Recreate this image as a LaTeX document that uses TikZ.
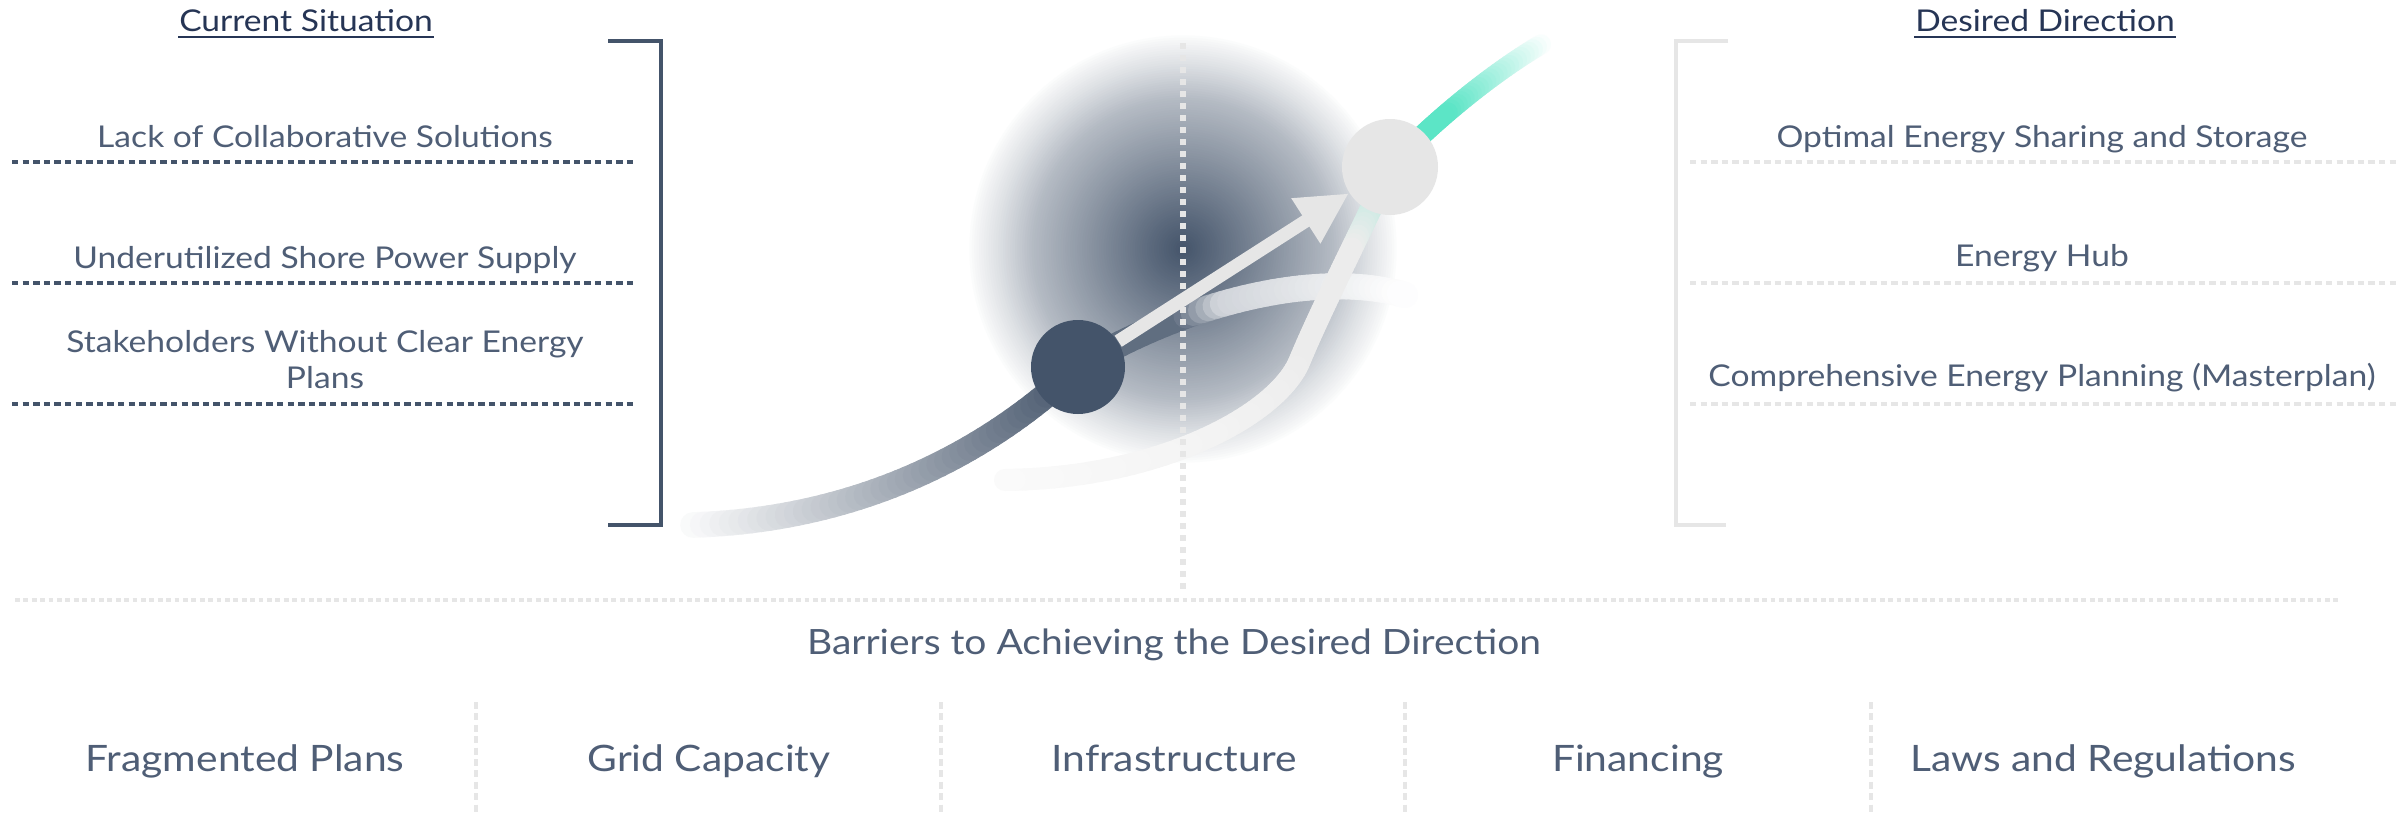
\documentclass[tikz,border=0pt]{standalone}
\usepackage{fontspec}
\setmainfont{Lato}[FakeStretch=1.12]
\usetikzlibrary{arrows.meta,calc}
\definecolor{navy}{HTML}{44546A}
\definecolor{hdr}{HTML}{263555}
\definecolor{txt}{HTML}{4F5E76}
\definecolor{lgray}{HTML}{E6E6E6}
\definecolor{mint}{HTML}{5CE5C6}
\definecolor{sgray}{HTML}{ECECEC}
\definecolor{endgray}{HTML}{FAFAFA}
\pgfdeclarelayer{back}
\pgfdeclarelayer{mid}
\pgfsetlayers{back,mid,main}
\newcommand\gcurve[6]{%
  \foreach \ii in {0,...,47}{%
    \pgfmathsetmacro\gt{\ii/48}%
    \pgfmathsetmacro\gtb{(\ii+1)/48}%
    \path #1 .. controls #2 and #3 .. #4 coordinate[pos=\gt] (gA) coordinate[pos=\gtb] (gB);%
    #6%
    \draw[line width=#5, line cap=round, gcol] (gA) -- (gB);%
  }}
\begin{document}
\begin{tikzpicture}[x=0.25pt, y=-0.25pt,
  item/.style={anchor=base, text=txt, font=\fontsize{7.5pt}{9pt}\selectfont, inner sep=0pt, align=center},
  head/.style={anchor=base, text=hdr, font=\fontsize{7.5pt}{9pt}\selectfont, inner sep=0pt},
  bot/.style={anchor=base, text=txt, font=\fontsize{9.1pt}{11pt}\selectfont, inner sep=0pt},
  ldot/.style={navy, line width=1.15pt, dash pattern=on 1.6pt off 1.05pt},
  rdot/.style={lgray, line width=1.15pt, dash pattern=on 1.6pt off 1.05pt},
  vdot/.style={lgray, line width=1.4pt, dash pattern=on 1.4pt off 1.6pt},
  hdot/.style={lgray, line width=1.2pt, dash pattern=on 1.2pt off 0.9pt},
  sdot/.style={lgray, line width=1.1pt, dash pattern=on 1.75pt off 1.1pt},
  brk/.style={line width=1.1pt, line join=miter},
  dot/.style={circle, inner sep=0pt, draw=none}]
\useasboundingbox (0,0) rectangle (2402,814);
\begin{pgfonlayer}{back}
\fill[white] (0,0) rectangle (2402,814);
\end{pgfonlayer}

% headers
\node[head] (hcs) at (306,32) {Current Situation};
\draw[hdr, line width=0.5pt] ($(hcs.base west)+(0,5)$) -- ($(hcs.base east)+(0,5)$);
\node[head] (hdd) at (2045,32) {Desired Direction};
\draw[hdr, line width=0.5pt] ($(hdd.base west)+(0,5)$) -- ($(hdd.base east)+(0,5)$);

% left column
\node[item] (l1) at (325,147) {Lack of Collaborative Solutions};
\node[item] (l2) at (325,268) {Underutilized Shore Power Supply};
\node[item] (l3) at (325,388) {Stakeholders Without Clear Energy\\Plans};
\draw[ldot] (12,162) -- (637,162);
\draw[ldot] (12,283) -- (637,283);
\draw[ldot] (12,404) -- (637,404);
\draw[navy, brk] (608,41) -- (661,41) -- (661,525) -- (608,525);

% right column
\node[item] (r1) at (2042,147) {Optimal Energy Sharing and Storage};
\node[item] (r2) at (2042,267) {Energy Hub};
\node[item] (r3) at (2042,386) {Comprehensive Energy Planning (Masterplan)};
\draw[rdot] (1690,162) -- (2396,162);
\draw[rdot] (1690,283) -- (2396,283);
\draw[rdot] (1690,404) -- (2396,404);
\draw[lgray, brk] (1728,41) -- (1676,41) -- (1676,525) -- (1726,525);

% bottom
\draw[hdot] (15,600) -- (2338,600);
\node[bot, font=\fontsize{8.7pt}{11pt}\selectfont] (bar) at (1174,654) {Barriers to Achieving the Desired Direction};
\node[bot] (b1) at (245,771) {Fragmented Plans};
\node[bot] (b2) at (709,771) {Grid Capacity};
\node[bot] (b3) at (1174,771) {Infrastructure};
\node[bot] (b4) at (1638,771) {Financing};
\node[bot] (b5) at (2103,771) {Laws and Regulations};
\foreach \sx in {476,941,1405,1871}{\draw[sdot] (\sx,702) -- (\sx,814);}

% centre graphic
\node[dot, fill=navy, minimum size=23.5pt] (cur) at (1078,367) {};
\node[dot, fill=lgray, minimum size=24pt] (des) at (1390,167) {};

\begin{pgfonlayer}{back}
\foreach \k in {0,...,89}{%
  \pgfmathsetmacro\bs{1-\k/90}%
  \pgfmathsetmacro\bp{\bs>0.97 ? 5*(1-\bs)/0.03 : (\bs>0.86 ? 5+13*(0.97-\bs)/0.11 : (\bs>0.7 ? 18+22*(0.86-\bs)/0.16 : (\bs>0.47 ? 40+20*(0.7-\bs)/0.23 : (\bs>0.15 ? 60+28*(0.47-\bs)/0.32 : 88+12*(0.15-\bs)/0.15))))}%
  \pgfmathsetmacro\br{54*\bs}%
  \fill[navy!\bp!white] (1183,249) circle[radius=\br pt];
}
\end{pgfonlayer}
\begin{pgfonlayer}{mid}
\gcurve{(693,525)}{(850,520)}{(980,460)}{(cur.center)}{6.4pt}{\pgfmathsetmacro\gp{3+97*\gt}\colorlet{gcol}{navy!\gp!white}}
\gcurve{(cur.center)}{(1190,300)}{(1320,270)}{(1405,295)}{6.5pt}{\pgfmathsetmacro\gp{\gt<0.3 ? 85 : (\gt<0.42 ? 85-(\gt-0.3)/0.12*60 : 25*(1-\gt)/0.58)}\colorlet{gcol}{navy!\gp!white}}
\gcurve{(1545,42)}{(1480,80)}{(1420,135)}{(des.center)}{5pt}{\pgfmathsetmacro\gp{min(\gt/0.55*100,100)}\colorlet{gcol}{mint!\gp!white}}
\gcurve{(des.center)}{(1372,210)}{(1325,300)}{(1300,360)}{5.5pt}{\pgfmathsetmacro\gp{max(50-\gt*110,0)}\colorlet{gcol}{mint!\gp!sgray}}
\gcurve{(1300,360)}{(1280,412)}{(1165,478)}{(1005,480)}{5.5pt}{\pgfmathsetmacro\gp{100*(1-\gt)}\colorlet{gcol}{sgray!\gp!endgray}}
\end{pgfonlayer}

\draw[lgray, line width=3.3pt, -{Triangle[length=12.8pt, width=12.5pt]}] (cur) -- (des);
\draw[vdot] (1183,43) -- (1183,590);
\end{tikzpicture}
\end{document}
